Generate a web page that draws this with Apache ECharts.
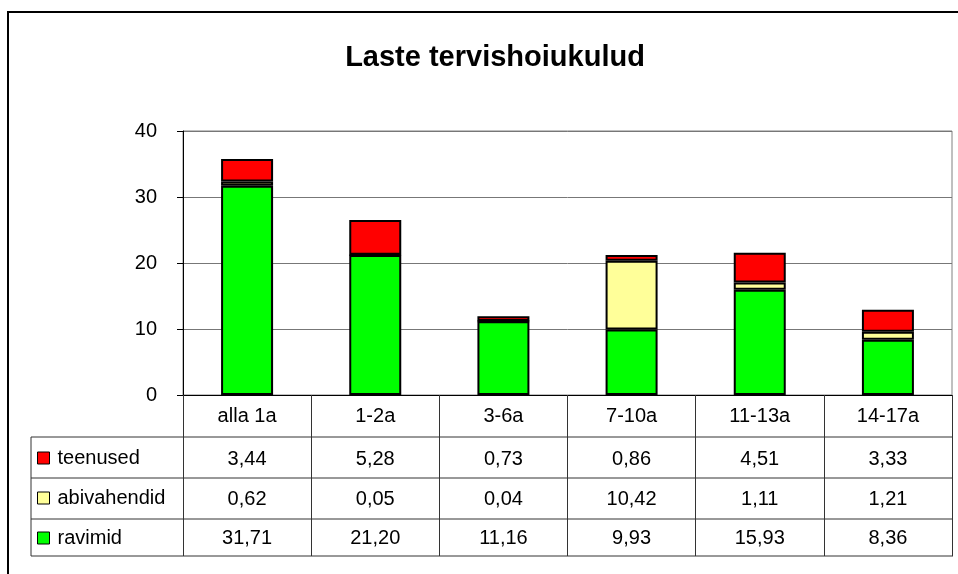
<!DOCTYPE html>
<html>
<head>
<meta charset="utf-8">
<script src="https://cdn.jsdelivr.net/npm/echarts@6/dist/echarts.min.js"></script>
<style>
  html, body { margin: 0; padding: 0; background: #fff; }
  #chart { width: 958px; height: 574px; }
</style>
</head>
<body>
<div id="chart"></div>
<script>
var categories = ['alla 1a', '1-2a', '3-6a', '7-10a', '11-13a', '14-17a'];
var teenused = [3.44, 5.28, 0.73, 0.86, 4.51, 3.33];
var abivahendid = [0.62, 0.05, 0.04, 10.42, 1.11, 1.21];
var ravimid = [31.71, 21.20, 11.16, 9.93, 15.93, 8.36];
var yTicks = [0, 10, 20, 30, 40];

var FONT = '"Liberation Sans", Arial, sans-serif';
var FS = 20;

function fmt(v){
    return v.toFixed(2).replace('.', ',');
}

// table row axes: same categories, label shows the value
function tableAxis(values, offset, margin){
    return {
        type: 'category',
        data: categories,
        position: 'bottom',
        offset: offset,
        axisLine: {show: false},
        axisTick: {show: false},
        splitLine: {show: false},
        axisLabel: {
            margin: margin,
            fontSize: FS,
            fontFamily: FONT,
            color: '#000',
            formatter: function(val, idx){ return fmt(values[idx]); }
        }
    };
}

var myChart = echarts.init(document.getElementById('chart'));

var tableLine = {stroke: '#333', lineWidth: 1};

option = {
    animation: false,
    backgroundColor: '#fff',
    title: {
        text: 'Laste tervishoiukulud',
        left: 490,
        textAlign: 'center',
        top: 38,
        textStyle: {fontSize: 29, fontWeight: 'bold', fontFamily: FONT, color: '#000'}
    },
    legend: {
        data: ['teenused', 'abivahendid', 'ravimid'],
        orient: 'vertical',
        left: 32,
        top: 443,
        itemWidth: 12,
        itemHeight: 12,
        itemGap: 20,
        icon: 'rect',
        itemStyle: {borderColor: '#000', borderWidth: 1},
        textStyle: {fontSize: FS, fontFamily: FONT, color: '#000', padding: [0, 0, 0, 3]}
    },
    grid: {
        left: 183,
        right: 6,
        top: 131,
        bottom: 179,
        show: true,
        borderColor: '#808080',
        borderWidth: 1,
        containLabel: false
    },
    xAxis: [
        {
            type: 'category',
            data: categories,
            axisLine: {lineStyle: {color: '#000', width: 1}},
            axisTick: {show: true, length: 161, lineStyle: {color: '#333'}},
            axisLabel: {margin: 11, fontSize: FS, fontFamily: FONT, color: '#000'}
        },
        tableAxis(teenused, 42, 12),
        tableAxis(abivahendid, 83, 11),
        tableAxis(ravimid, 124, 9)
    ],
    yAxis: {
        type: 'value',
        min: yTicks[0],
        max: yTicks[yTicks.length - 1],
        interval: 10,
        axisLine: {show: true, lineStyle: {color: '#000', width: 1}},
        axisTick: {show: true, length: 6, lineStyle: {color: '#000'}},
        axisLabel: {margin: 26, fontSize: FS, fontFamily: FONT, color: '#000'},
        splitLine: {lineStyle: {color: '#777', width: 1}}
    },
    series: [
        {
            name: 'ravimid', type: 'bar', stack: 'k', barWidth: 52, data: ravimid,
            itemStyle: {color: '#00FF00', borderColor: '#000', borderWidth: 2}
        },
        {
            name: 'abivahendid', type: 'bar', stack: 'k', barWidth: 52, data: abivahendid,
            itemStyle: {color: '#FFFF99', borderColor: '#000', borderWidth: 2}
        },
        {
            name: 'teenused', type: 'bar', stack: 'k', barWidth: 52, data: teenused,
            itemStyle: {color: '#FF0000', borderColor: '#000', borderWidth: 2}
        }
    ],
    graphic: [
        // outer chart frame
        {type: 'rect', shape: {x: 8, y: 12, width: 1000, height: 700},
         style: {fill: 'none', stroke: '#000', lineWidth: 2}, silent: true},
        // data table lines
        {type: 'line', shape: {x1: 31, y1: 437, x2: 953, y2: 437}, style: tableLine},
        {type: 'line', shape: {x1: 31, y1: 478, x2: 953, y2: 478}, style: tableLine},
        {type: 'line', shape: {x1: 31, y1: 519, x2: 953, y2: 519}, style: tableLine},
        {type: 'line', shape: {x1: 31, y1: 556, x2: 953, y2: 556}, style: tableLine},
        {type: 'line', shape: {x1: 31, y1: 437, x2: 31, y2: 556}, style: tableLine}
    ]
};
myChart.setOption(option, true);
</script>
</body>
</html>
